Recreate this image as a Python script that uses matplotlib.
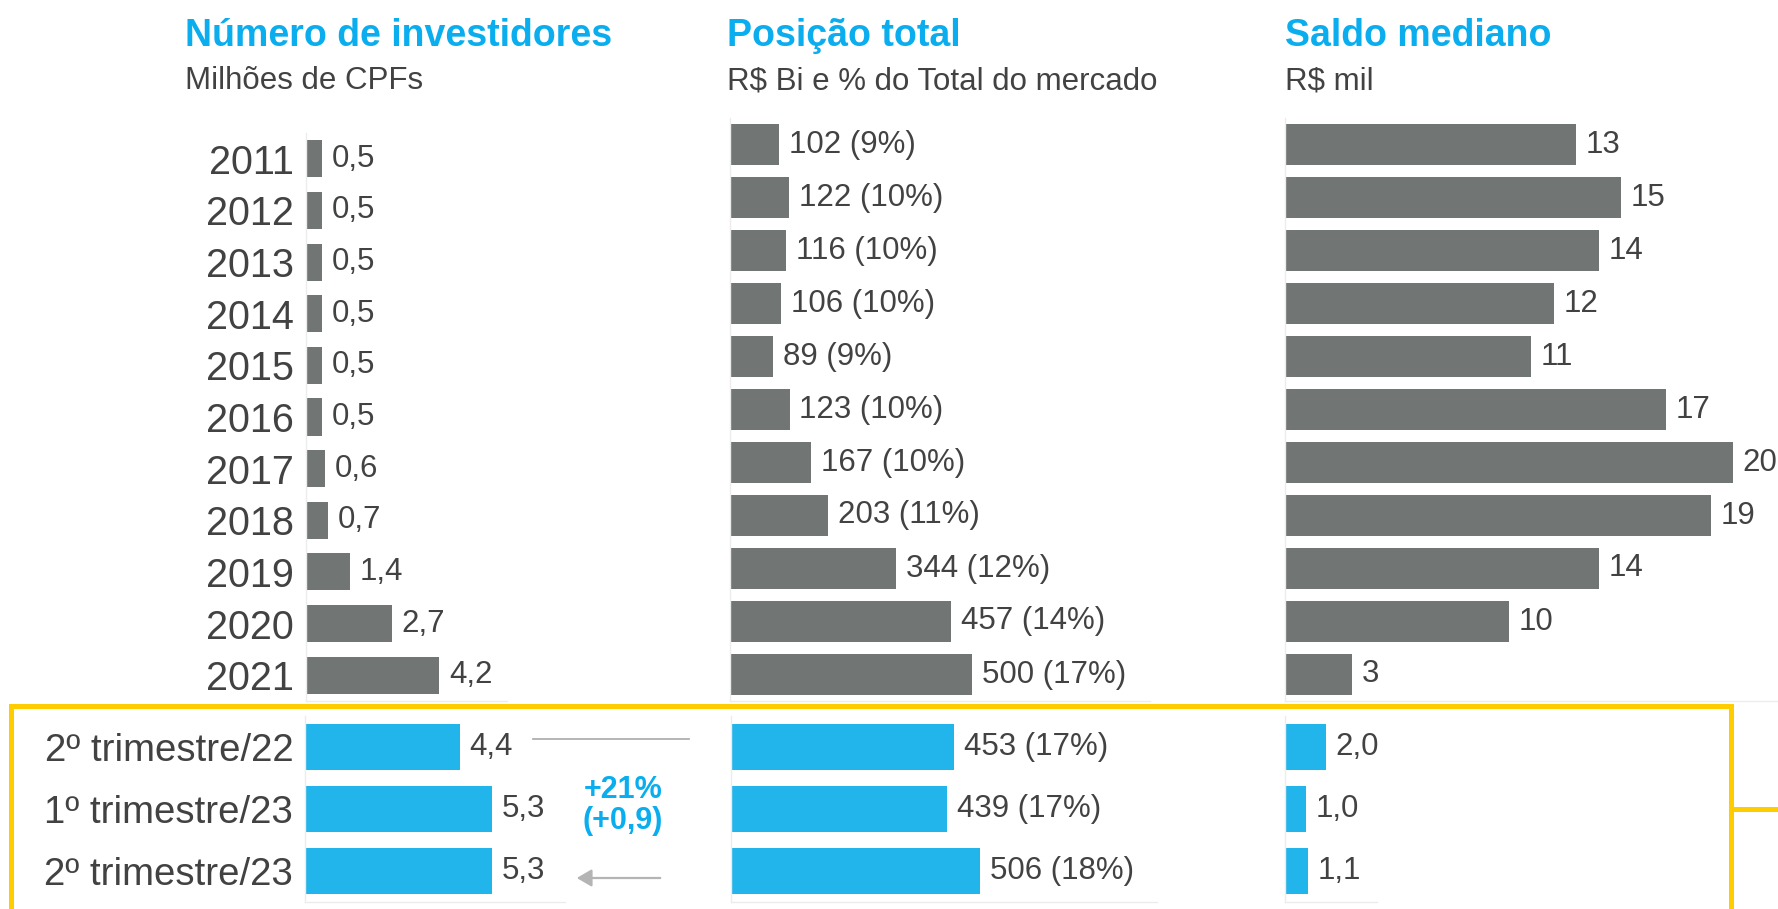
import matplotlib
matplotlib.use("Agg")
import matplotlib.pyplot as plt
from matplotlib.patches import Rectangle, FancyArrowPatch
from matplotlib.lines import Line2D

plt.rcParams['font.family'] = ['Liberation Sans', 'DejaVu Sans']

# ---------------- data ----------------
years = ['2011', '2012', '2013', '2014', '2015', '2016', '2017', '2018', '2019', '2020', '2021']
quarters = ['2º trimestre/22', '1º trimestre/23', '2º trimestre/23']

investors_annual = [0.5, 0.5, 0.5, 0.5, 0.5, 0.5, 0.6, 0.7, 1.4, 2.7, 4.2]
investors_quarter = [4.4, 5.3, 5.3]

position_annual = [102, 122, 116, 106, 89, 123, 167, 203, 344, 457, 500]
position_share_annual = [9, 10, 10, 10, 9, 10, 10, 11, 12, 14, 17]
position_quarter = [453, 439, 506]
position_share_quarter = [17, 17, 18]

balance_annual = [13, 15, 14, 12, 11, 17, 20, 19, 14, 10, 3]
balance_quarter = [2.0, 1.0, 1.1]

titles = ['Número de investidores', 'Posição total', 'Saldo mediano']
subtitles = ['Milhões de CPFs', 'R$ Bi e % do Total do mercado', 'R$ mil']
growth_text = ['+21%', '(+0,9)']

# ---------------- style ----------------
W, H = 1778, 909
GRAY = '#717574'
BLUE = '#22B5EC'
TITLE_BLUE = '#0AADEE'
TXT = '#424242'
AXLINE = '#ECECEC'
YELLOW = '#FFCC00'

fig = plt.figure(figsize=(W / 100, H / 100), dpi=100)
fig.patch.set_facecolor('white')


def ax_at(x0, y0, x1, y1):
    ax = fig.add_axes([x0 / W, 1 - y1 / H, (x1 - x0) / W, (y1 - y0) / H])
    ax.set_facecolor('none')
    for s in ['top', 'right']:
        ax.spines[s].set_visible(False)
    for s in ['left', 'bottom']:
        ax.spines[s].set_color(AXLINE)
        ax.spines[s].set_linewidth(1.0)
    ax.set_xticks([])
    ax.tick_params(axis='y', length=0)
    return ax


def fmt_dec(v):
    return f'{v:.1f}'.replace('.', ',')


def draw(ax, values, texts, color, height, xmax, ticklabels=None, ticksize=26):
    n = len(values)
    ax.barh(range(n), values, height=height, color=color, linewidth=0)
    ax.set_ylim(n - 0.5, -0.5)
    ax.set_xlim(0, xmax)
    for i, (v, t) in enumerate(zip(values, texts)):
        ax.annotate(t, (v, i), xytext=(7, 0), textcoords='offset points',
                    va='center', ha='left', fontsize=22.5, color=TXT)
    if ticklabels is not None:
        ax.set_yticks(range(n))
        ax.set_yticklabels(ticklabels, fontsize=ticksize, color=TXT)
        ax.tick_params(axis='y', pad=8.5)
    else:
        ax.set_yticks([])


# ---- Panel 1: investors ----
ax1u = ax_at(306, 133, 507, 701)
draw(ax1u, investors_annual, [fmt_dec(v) for v in investors_annual], GRAY, 0.72,
     (507 - 306) / 31.7, ticklabels=years, ticksize=28.5)
ax1l = ax_at(305, 716, 565, 902)
draw(ax1l, investors_quarter, [fmt_dec(v) for v in investors_quarter], BLUE, 0.73,
     (565 - 305) / 35.2, ticklabels=quarters, ticksize=27.6)

# ---- Panel 2: position ----
ax2u = ax_at(730, 118, 1150, 701)
draw(ax2u, position_annual,
     [f'{v} ({p}%)' for v, p in zip(position_annual, position_share_annual)], GRAY, 0.76,
     (1150 - 730) / 0.484)
ax2l = ax_at(731, 716, 1157, 902)
draw(ax2l, position_quarter,
     [f'{v} ({p}%)' for v, p in zip(position_quarter, position_share_quarter)], BLUE, 0.73,
     (1157 - 731) / 0.492)

# ---- Panel 3: median balance ----
ax3u = ax_at(1285, 118, 1778, 701)
draw(ax3u, balance_annual, [str(v) for v in balance_annual], GRAY, 0.76,
     (1778 - 1285) / 22.4)
ax3l = ax_at(1285, 716, 1377, 902)
draw(ax3l, balance_quarter, [fmt_dec(v) for v in balance_quarter], BLUE, 0.73,
     (1377 - 1285) / 20.5)

# ---- titles ----
for x, t, s in zip([185, 727, 1285], titles, subtitles):
    fig.text(x / W, 1 - 36 / H, t, fontsize=27, fontweight='bold', color=TITLE_BLUE,
             ha='left', va='center')
    fig.text(x / W, 1 - 81 / H, s, fontsize=22.5, color=TXT, ha='left', va='center')

# ---- yellow highlight box ----
fig.patches.append(Rectangle((11 / W, 1 - 940 / H), (1731 - 11) / W, (940 - 706) / H,
                             transform=fig.transFigure, fill=False, edgecolor=YELLOW,
                             linewidth=3.6, clip_on=False))
fig.lines.append(Line2D([1731 / W, 1.0], [1 - 809 / H, 1 - 809 / H],
                        transform=fig.transFigure, color=YELLOW, linewidth=3.6))

# ---- growth annotation ----
fig.lines.append(Line2D([533 / W, 689 / W], [1 - 739 / H, 1 - 739 / H],
                        transform=fig.transFigure, color='#A8A8A8', linewidth=1.2))
fig.patches.append(FancyArrowPatch(
    (663 / W, 1 - 878 / H), (574 / W, 1 - 878 / H), transform=fig.transFigure,
    arrowstyle='-|>,head_length=6,head_width=3.5', color='#B4B4B4', linewidth=1.6,
    mutation_scale=1.5))
fig.text(623 / W, 1 - 790 / H, growth_text[0], fontsize=22, fontweight='bold',
         color=TITLE_BLUE, ha='center', va='center')
fig.text(623 / W, 1 - 821 / H, growth_text[1], fontsize=22, fontweight='bold',
         color=TITLE_BLUE, ha='center', va='center')

fig.savefig('out.png', dpi=100, facecolor='white')
